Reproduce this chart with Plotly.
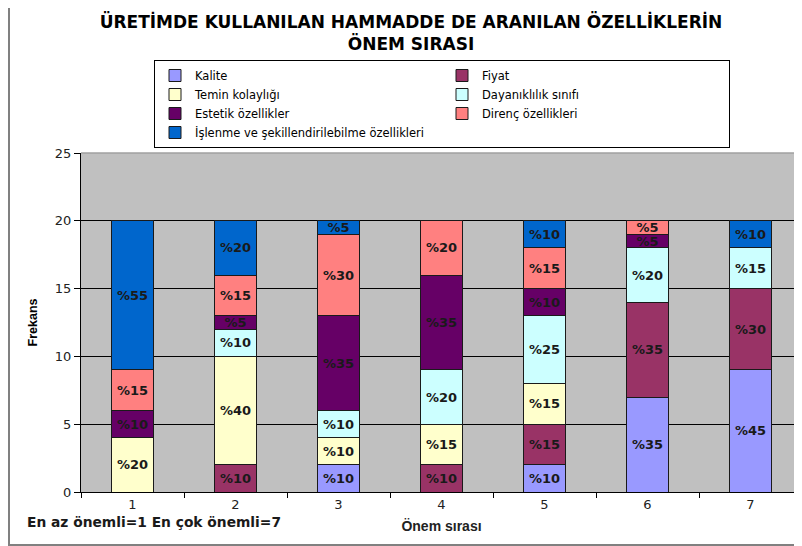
import plotly.graph_objects as go

categories = ["1", "2", "3", "4", "5", "6", "7"]
series_names = ["Kalite", "Fiyat", "Temin kolaylığı", "Dayanıklılık sınıfı",
                "Estetik özellikler", "Direnç özellikleri",
                "İşlenme ve şekillendirilebilme özellikleri"]
kalite = [0, 0, 2, 0, 2, 7, 9]
fiyat = [0, 2, 0, 2, 3, 7, 6]
temin = [4, 8, 2, 3, 3, 0, 0]
dayaniklilik = [0, 2, 2, 4, 5, 4, 3]
estetik = [2, 1, 7, 7, 2, 1, 0]
direnc = [3, 3, 6, 4, 3, 1, 0]
islenme = [11, 4, 1, 0, 2, 0, 2]
total_respondents = 20
colors = ["#9999FF", "#993366", "#FFFFCC", "#CCFFFF", "#660066", "#FF8080", "#0066CC"]

series_values = [kalite, fiyat, temin, dayaniklilik, estetik, direnc, islenme]

# The page body has an 8px margin; figure is sized to fit the 802x546 window.
OFF = 8
W, H = 802 - OFF, 546 - OFF
L, R, T, B = 81 - OFF, 0, 153 - OFF, 54
PW, PH = W - L - R, H - T - B


def px(x):  # screen x -> paper x
    return (x - OFF - L) / PW


def py(y):  # screen y -> paper y
    return (H + OFF - B - y) / PH


fig = go.Figure()
for name, vals, col in zip(series_names, series_values, colors):
    fig.add_trace(go.Bar(
        name=name,
        x=categories,
        y=[v if v else None for v in vals],
        text=[f"%{round(v * 100 / total_respondents)}" if v else "" for v in vals],
        textposition="inside",
        insidetextanchor="middle",
        textangle=0,
        constraintext="none",
        insidetextfont=dict(family="DejaVu Sans", size=13, color="#1a1a1a", weight="bold"),
        marker=dict(color=col, line=dict(color="#1a1a1a", width=1)),
        hoverinfo="skip",
    ))

fig.update_layout(
    width=W, height=H,
    margin=dict(l=L, r=R, t=T, b=B, pad=0, autoexpand=False),
    barmode="stack",
    bargap=0.585,
    paper_bgcolor="white",
    plot_bgcolor="#C0C0C0",
    uniformtext=dict(minsize=13, mode="show"),
    title=dict(
        text="ÜRETİMDE KULLANILAN HAMMADDE DE ARANILAN ÖZELLİKLERİN<br>ÖNEM SIRASI",
        x=(411 - OFF) / W, xanchor="center", xref="container",
        y=1 - (28 - OFF) / H, yanchor="middle", yref="container",
        font=dict(family="DejaVu Sans", size=17, color="black", weight="bold"),
    ),
    legend=dict(
        orientation="h",
        x=px(154), xanchor="left", y=py(60), yanchor="top",
        bgcolor="white", bordercolor="black", borderwidth=1,
        font=dict(family="DejaVu Sans", size=11.5, color="black"),
        entrywidth=242, entrywidthmode="pixels",
        traceorder="normal",
    ),
    xaxis=dict(
        type="category",
        range=[-0.5, 6.5],
        tickson="boundaries",
        ticks="outside", ticklen=5, tickcolor="black",
        showline=True, linecolor="black", linewidth=1,
        showgrid=False,
        tickfont=dict(family="DejaVu Sans", size=13, color="#222"),
        title=dict(text="Önem sırası", standoff=10,
                   font=dict(family="Liberation Sans", size=14, color="#222", weight="bold")),
    ),
    yaxis=dict(
        range=[0, 25], dtick=5,
        ticks="outside", ticklen=6, tickcolor="black",
        showline=True, linecolor="black", linewidth=1,
        showgrid=True, gridcolor="black", gridwidth=1,
        zeroline=False,
        tickfont=dict(family="DejaVu Sans", size=13, color="#222"),
        title=dict(text="Frekans", standoff=14,
                   font=dict(family="Liberation Sans", size=12.5, color="black", weight="bold")),
    ),
    shapes=[
        dict(type="rect", xref="paper", yref="paper",
             x0=px(9), x1=px(812), y0=py(545), y1=py(1),
             line=dict(color="#808080", width=2), layer="below"),
        dict(type="line", xref="paper", yref="paper",
             x0=0, x1=1, y0=1, y1=1,
             line=dict(color="#A0A0A0", width=1.5), layer="above"),
    ],
    annotations=[
        dict(text="En az önemli=1 En çok önemli=7", xref="paper", yref="paper",
             x=px(25), xanchor="left", y=py(522), yanchor="middle",
             showarrow=False,
             font=dict(family="DejaVu Sans", size=13.8, color="#1a1a1a", weight="bold")),
    ],
)

fig.write_html("out.html")
